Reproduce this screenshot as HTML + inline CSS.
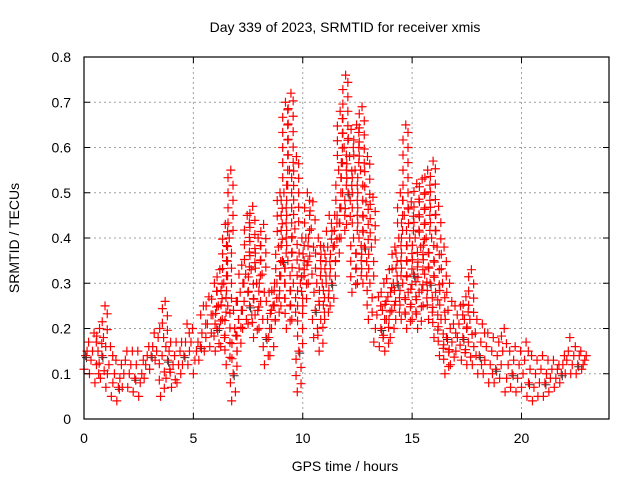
<!DOCTYPE html>
<html><head><meta charset="utf-8"><style>
body{margin:0;background:#fff;}
svg{display:block;font-family:"Liberation Sans",sans-serif;}
</style></head><body>
<svg id="chart" width="640" height="480">
<text x="345" y="32" text-anchor="middle" font-size="14">Day 339 of 2023, SRMTID for receiver xmis</text>
<text x="345" y="471" text-anchor="middle" font-size="14">GPS time / hours</text>
<text transform="translate(19,238) rotate(-90)" text-anchor="middle" font-size="14">SRMTID / TECUs</text>
<g id="grid"></g><g id="pts"></g><g id="axes"></g>
</svg>
<script>
const xTicks=[0,5,10,15,20];
const yTicks=[0,0.1,0.2,0.3,0.4,0.5,0.6,0.7,0.8];
const yTickLabels=["0","0.1","0.2","0.3","0.4","0.5","0.6","0.7","0.8"];
const timeStep=0.25;
const srmtidLow=[.11,.10,.08,.09,.07,.05,.04,.07,.07,.06,.05,.09,.11,.13,.05,.09,.07,.08,.12,.12,.10,.13,.15,.16,.15,.16,.12,.04,.15,.20,.21,.18,.20,.12,.14,.22,.25,.20,.22,.06,.25,.30,.18,.15,.22,.25,.35,.40,.43,.28,.30,.30,.22,.17,.16,.15,.18,.22,.22,.20,.22,.20,.25,.22,.18,.14,.10,.12,.15,.13,.12,.12,.10,.10,.08,.08,.09,.06,.07,.06,.07,.05,.04,.05,.05,.06,.07,.08,.10,.10,.10,.11];
const srmtidMid1=[.14,.13,.12,.14,.10,.08,.07,.10,.10,.09,.08,.12,.14,.15,.14,.13,.12,.12,.14,.15,.13,.16,.18,.19,.20,.22,.25,.10,.22,.26,.25,.23,.26,.18,.20,.30,.35,.35,.30,.15,.33,.36,.24,.22,.30,.30,.45,.50,.50,.40,.40,.38,.30,.20,.20,.22,.24,.30,.30,.28,.32,.28,.32,.30,.28,.22,.18,.17,.18,.18,.17,.16,.14,.13,.12,.11,.12,.09,.10,.09,.10,.08,.07,.08,.08,.09,.09,.10,.13,.12,.12,.12];
const srmtidMid2=[.15,.15,.15,.18,.12,.10,.09,.13,.12,.12,.10,.14,.16,.18,.18,.15,.14,.15,.17,.17,.15,.19,.21,.23,.25,.30,.40,.20,.28,.32,.33,.30,.32,.22,.25,.38,.50,.55,.42,.30,.40,.42,.30,.30,.38,.38,.55,.60,.58,.55,.55,.48,.38,.23,.24,.27,.30,.40,.45,.40,.40,.38,.40,.40,.38,.30,.24,.21,.21,.22,.22,.19,.17,.16,.15,.14,.15,.12,.13,.12,.13,.11,.10,.11,.10,.11,.11,.12,.15,.14,.14,.13];
const srmtidHigh=[.17,.19,.20,.25,.16,.13,.12,.15,.15,.15,.13,.16,.19,.20,.26,.17,.17,.17,.21,.20,.17,.25,.27,.30,.33,.43,.55,.26,.34,.45,.47,.40,.43,.28,.30,.50,.70,.72,.58,.40,.50,.48,.40,.38,.45,.45,.68,.76,.64,.65,.69,.58,.49,.27,.30,.33,.38,.50,.65,.48,.52,.53,.55,.57,.47,.38,.30,.25,.25,.27,.33,.22,.21,.19,.18,.17,.20,.15,.16,.15,.17,.14,.13,.14,.13,.13,.12,.14,.18,.16,.15,.14];
const NS="http://www.w3.org/2000/svg";
const L=84,R=609,T=57,B=419,XMAX=24,YMAX=0.8;
const xs=v=>L+(R-L)*v/XMAX, ys=v=>B-(B-T)*v/YMAX;
function mk(tag,attrs,parent){const e=document.createElementNS(NS,tag);for(const k in attrs)e.setAttribute(k,attrs[k]);parent.appendChild(e);return e;}
const grid=document.getElementById('grid'),axes=document.getElementById('axes'),pts=document.getElementById('pts');
xTicks.forEach(t=>{
 if(t>0){const g=mk('line',{x1:xs(t),x2:xs(t),y1:T,y2:B,stroke:'#a0a0a0','stroke-dasharray':'2,3'},grid);
 
 }
 mk('line',{x1:xs(t),x2:xs(t),y1:B,y2:B-6,stroke:'#000'},axes);
 mk('line',{x1:xs(t),x2:xs(t),y1:T,y2:T+6,stroke:'#000'},axes);
 const lb=mk('text',{x:xs(t),y:B+24,'text-anchor':'middle','font-size':14},axes);lb.textContent=t;
 
 
});
yTicks.forEach((v,i)=>{
 if(i>0&&i<yTicks.length-1){const g=mk('line',{x1:L,x2:R,y1:ys(v),y2:ys(v),stroke:'#a0a0a0','stroke-dasharray':'2,3'},grid);
 
 }
 mk('line',{x1:L,x2:L+6,y1:ys(v),y2:ys(v),stroke:'#000'},axes);
 mk('line',{x1:R,x2:R-6,y1:ys(v),y2:ys(v),stroke:'#000'},axes);
 const lb=mk('text',{x:L-13,y:ys(v)+5,'text-anchor':'end','font-size':14},axes);lb.textContent=yTickLabels[i];
 
 
});
const border=mk('rect',{x:L,y:T,width:R-L,height:B-T,fill:'none',stroke:'#000','stroke-width':1.2},axes);


const series=[srmtidLow,srmtidMid1,srmtidMid2,srmtidHigh];
const offs=[0,0.07,0.14,0.21];
let d='',dk='';
function cross(x,y){return `M${x-4.5},${y}h9M${x},${y-4.5}v9`;}
for(let i=0;i<srmtidLow.length;i++){
 const t=i*timeStep;
 for(let s=0;s<4;s++){
  const x=xs(t+offs[s]),y=ys(series[s][i]);
  d+=cross(x,y);
  if(s<3){
   const y2=ys(series[s+1][i]);
   const x2=xs(t+offs[s]+0.035);
   const n=Math.floor(Math.abs(y-y2)/7);
   for(let k=1;k<n;k++){const yy=y+(y2-y)*k/n;d+=cross(x2+((k%2)?3:-2),yy);}
  }
  if(s===1&&i%3===0)dk+=cross(x+1,y+2);
 }
}
const pk=mk('path',{d:dk,stroke:'#333',fill:'none','stroke-width':1},pts);


const p=mk('path',{d:d,stroke:'#ff0000',fill:'none','stroke-width':1.2},pts);


</script>
</body></html>
